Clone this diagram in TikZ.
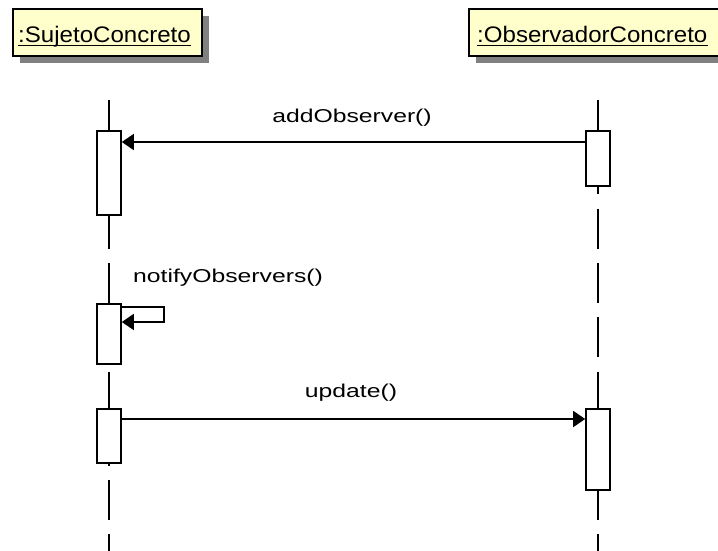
\documentclass[tikz,border=0pt]{standalone}
\usepackage{fontspec}
\setmainfont{Liberation Sans}
\newfontfamily\hdrfont[FakeStretch=1.07]{Liberation Sans}
\newfontfamily\msgfont[FakeStretch=1.33]{Liberation Sans}
\usetikzlibrary{arrows.meta,shadows}
\definecolor{notefill}{HTML}{FFFFCC}
\definecolor{shadowgray}{HTML}{808080}

\begin{document}
\begin{tikzpicture}[x=1pt,y=-1pt,
  header/.style={draw=black, line width=1.6pt, fill=notefill, inner sep=0pt,
    anchor=north west, minimum height=47pt,
    drop shadow={shadow xshift=7pt, shadow yshift=-7pt, fill=shadowgray, opacity=1}},
  hdrtext/.style={font=\hdrfont\fontsize{22.5}{22.5}\selectfont, inner sep=0pt, anchor=base west},
  msgtext/.style={font=\msgfont\fontsize{18.6}{18.6}\selectfont, inner sep=0pt},
  lifeline/.style={line width=1.6pt, dash pattern=on 40pt off 14.3pt},
  act/.style={draw=black, line width=1.6pt, fill=white, minimum width=24pt,
    inner sep=0pt, anchor=north},
  msg/.style={line width=1.6pt, -{Triangle[length=12pt,width=16pt]}}
]
\useasboundingbox (0,0) rectangle (718,551);
\clip (0,0) rectangle (718,551);
\fill[white] (0,0) rectangle (718,551);

% object headers
\node[header, minimum width=189pt] (subj) at (12,8) {};
\node[header, minimum width=280pt] (obs) at (468,8) {};
\node[hdrtext] (subjlbl) at (18,43) {:SujetoConcreto};
\node[hdrtext] (obslbl) at (477,43) {:ObservadorConcreto};
\draw[line width=1.4pt] ([yshift=-2.5pt]subjlbl.base west) -- ([yshift=-2.5pt]subjlbl.base east);
\draw[line width=1.4pt] ([yshift=-2.5pt]obslbl.base west) -- ([yshift=-2.5pt]obslbl.base east);

% lifelines
\coordinate (stop) at (109,100);
\coordinate (sbot) at (109,600);
\coordinate (otop) at (598,100);
\coordinate (obot) at (598,600);
\draw[lifeline] (stop) -- (sbot);
\draw[lifeline] (otop) -- (obot);

% activation bars
\node[act, minimum height=84pt] (s1) at (109,130) {};
\node[act, minimum height=60pt] (s2) at (109,303) {};
\node[act, minimum height=54pt] (s3) at (109,408) {};
\node[act, minimum height=55pt] (o1) at (598,130) {};
\node[act, minimum height=81pt] (o2) at (598,408) {};

% messages
\draw[msg] ([yshift=-12pt]o1.north west) -- ([yshift=-12pt]o1.north west -| s1.east);
\node[msgtext, anchor=base] (m1) at (352,122.7) {addObserver()};

\draw[msg] ([yshift=-4pt]s2.north east) -- ++(42,0) -- ++(0,15) -- ([yshift=-19pt]s2.north east);
\node[msgtext, anchor=base west] (m2) at (133,282.7) {notifyObservers()};

\draw[msg] ([yshift=-11pt]s3.north east) -- ([yshift=-11pt]s3.north east -| o2.west);
\node[msgtext, anchor=base] (m3) at (351,397.7) {update()};
\end{tikzpicture}
\end{document}
